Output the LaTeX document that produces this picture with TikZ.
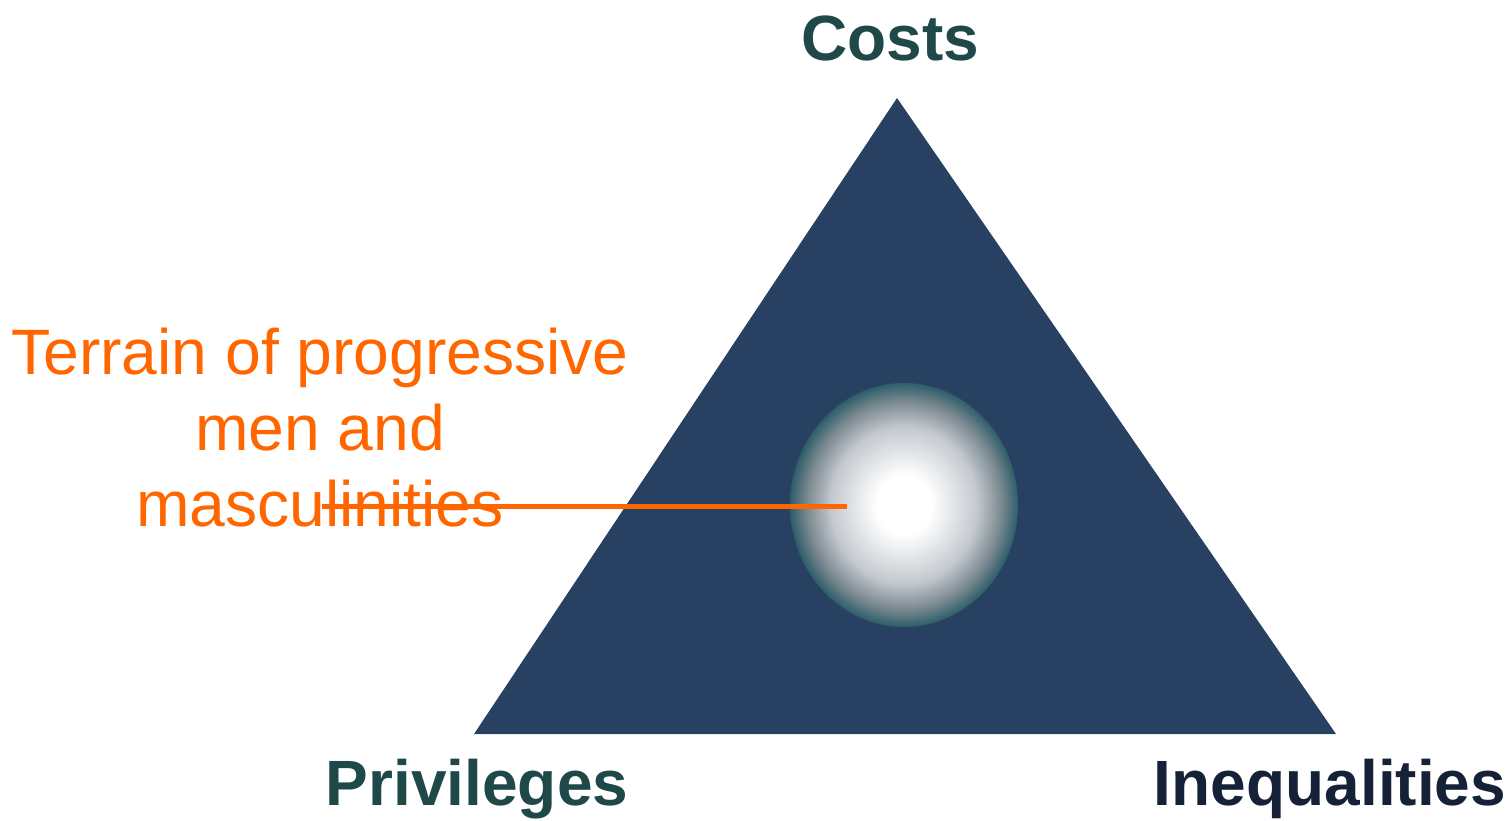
\documentclass[tikz,border=0pt]{standalone}
\usepackage{fontspec}
\setmainfont{Liberation Sans}
\usetikzlibrary{shapes.geometric}
\definecolor{navy}{RGB}{40,65,98}
\definecolor{tealtext}{RGB}{31,72,72}
\definecolor{darknavy}{RGB}{21,33,55}
\definecolor{accent}{RGB}{255,102,0}
\definecolor{glowedge}{RGB}{44,94,106}
\definecolor{glowmid}{RGB}{120,135,142}
\definecolor{glowlight}{RGB}{196,201,207}
\pgfdeclareradialshading{glow}{\pgfpoint{0bp}{0bp}}{%
  color(0bp)=(white); color(6bp)=(white); color(16bp)=(glowlight);
  color(21.5bp)=(glowmid); color(25bp)=(glowedge); color(50bp)=(glowedge)}
\tikzset{
  corner/.style={font=\fontsize{64}{76}\selectfont\bfseries, inner sep=0pt, anchor=base},
  terrain/.style={font=\fontsize{64.2}{76}\selectfont, text=accent, inner sep=0pt, align=center, anchor=base},
  pointer/.style={draw=accent, line width=5pt}
}
\begin{document}
\begin{tikzpicture}[x=1pt,y=-1pt]
\useasboundingbox (0,0) rectangle (1511,820);
\coordinate (top) at (897,98);
\coordinate (bl) at (474,734);
\coordinate (br) at (1336,734);
\fill[navy] (top) -- (bl) -- (br) -- cycle;
\node[ellipse, minimum width=228pt, minimum height=244pt, inner sep=0pt, shading=glow] (glow) at (904,505) {};
\node[terrain] (label) at (320,526) {Terrain of progressive\\men and\\masculinities};
\coordinate (ls) at (322,506);
\coordinate (le) at (847,506);
\draw[pointer] (ls) -- (le);
\node[corner, text=tealtext] (costs) at (890,60) {Costs};
\node[corner, text=tealtext] (priv) at (477,805) {Privileges};
\node[corner, text=darknavy] (ineq) at (1330,805) {Inequalities};
\end{tikzpicture}
\end{document}
